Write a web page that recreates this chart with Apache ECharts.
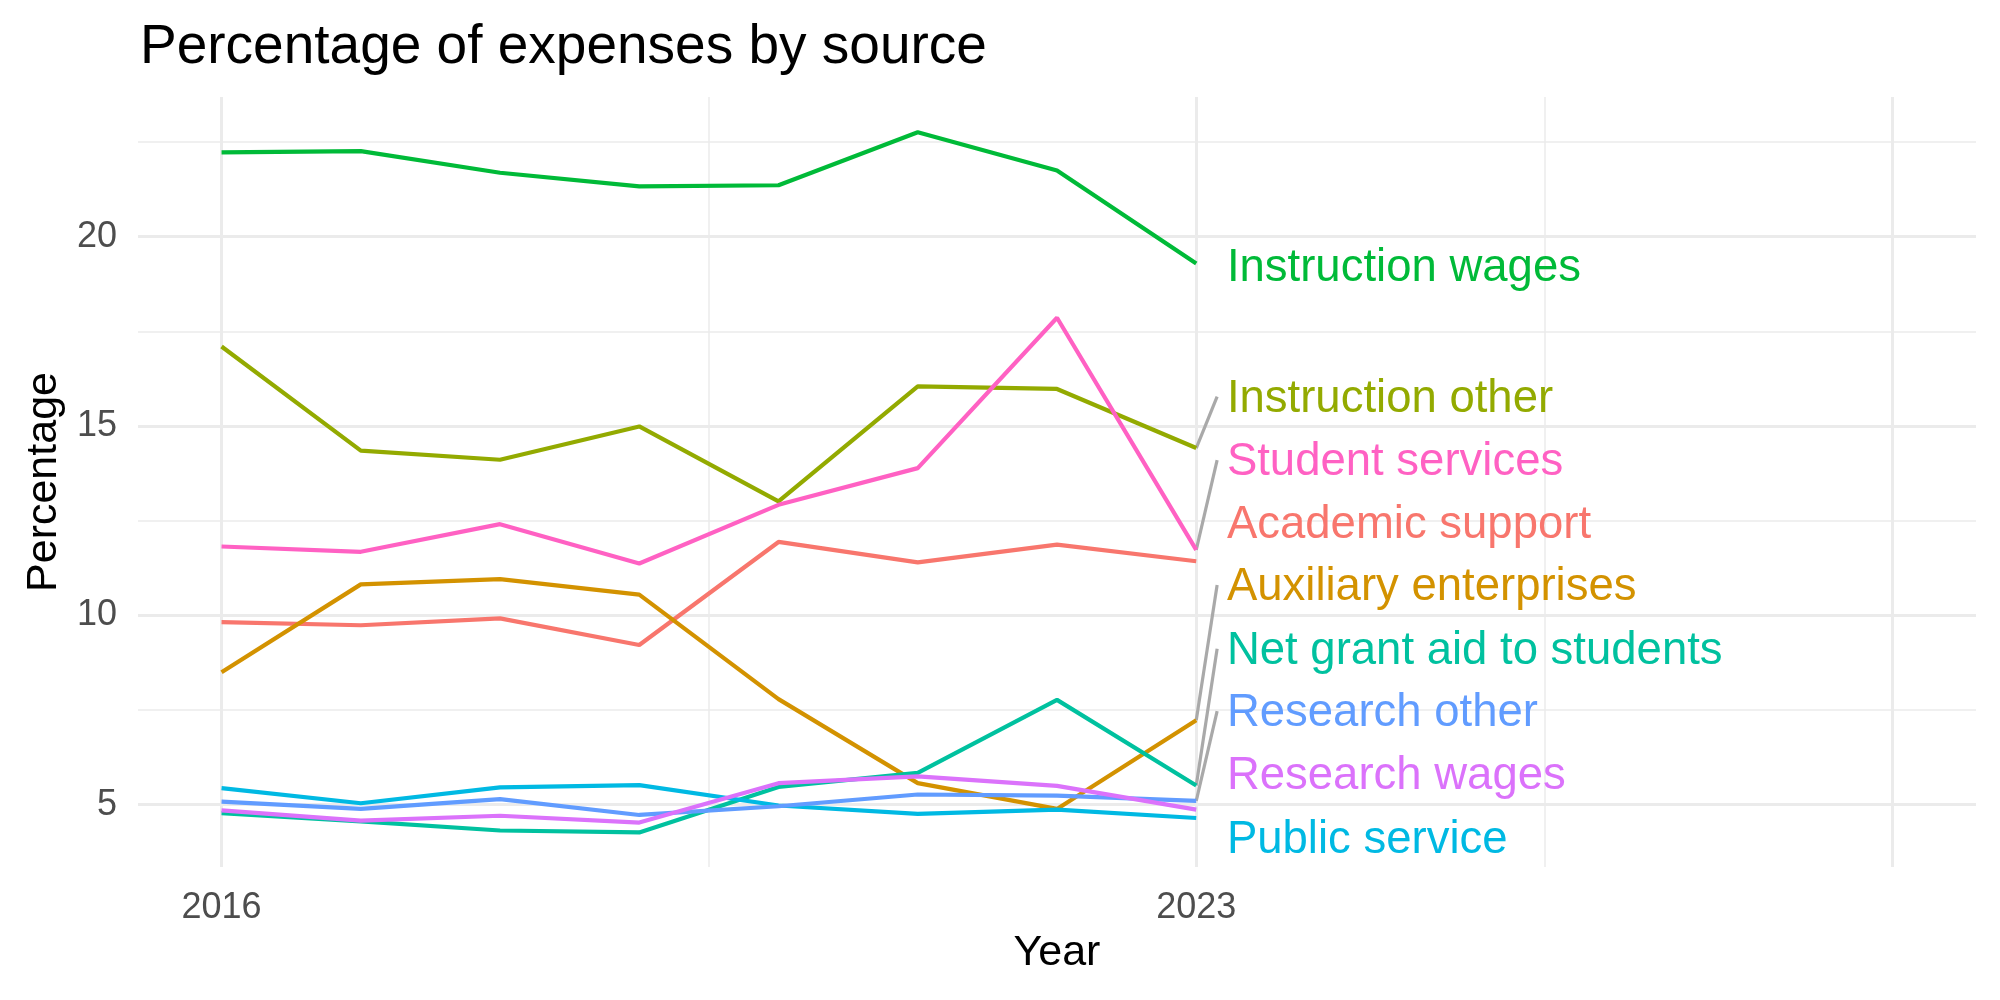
<!DOCTYPE html>
<html>
<head>
<meta charset="utf-8">
<script src="https://cdn.jsdelivr.net/npm/echarts@6/dist/echarts.min.js"></script>
<style>
html, body { margin: 0; padding: 0; background: #fff; }
#chart { width: 2000px; height: 1000px; }
</style>
</head>
<body>
<div id="chart"></div>
<script>
// data
const years = [2016, 2017, 2018, 2019, 2020, 2021, 2022, 2023];
const academicSupport = [9.82, 9.74, 9.92, 9.22, 11.94, 11.40, 11.87, 11.43];
const auxiliaryEnterprises = [8.50, 10.82, 10.96, 10.55, 7.79, 5.57, 4.89, 7.23];
const instructionOther = [17.10, 14.35, 14.11, 14.99, 13.01, 16.05, 15.98, 14.42];
const instructionWages = [22.23, 22.26, 21.69, 21.33, 21.36, 22.76, 21.75, 19.29];
const netGrantAid = [4.78, 4.56, 4.32, 4.27, 5.47, 5.84, 7.77, 5.51];
const publicService = [5.44, 5.04, 5.46, 5.52, 4.98, 4.76, 4.87, 4.65];
const researchOther = [5.08, 4.89, 5.15, 4.73, 4.96, 5.27, 5.24, 5.10];
const researchWages = [4.85, 4.58, 4.71, 4.53, 5.57, 5.75, 5.50, 4.87];
const studentServices = [11.82, 11.68, 12.41, 11.37, 12.92, 13.89, 17.86, 11.73];

const names = ['Academic support', 'Auxiliary enterprises', 'Instruction other', 'Instruction wages',
  'Net grant aid to students', 'Public service', 'Research other', 'Research wages', 'Student services'];
const values = [academicSupport, auxiliaryEnterprises, instructionOther, instructionWages,
  netGrantAid, publicService, researchOther, researchWages, studentServices];

const xTickLabels = [2016, 2023];
const yTickLabels = [5, 10, 15, 20];
const xMajor = [2016, 2023, 2028];
const xMinor = [2019.5, 2025.5];
const yMajor = [5, 10, 15, 20];
const yMinor = [7.5, 12.5, 17.5, 22.5];

// ggplot hue palette
const colors = ['#F8766D', '#D39200', '#93AA00', '#00BA38', '#00C19F', '#00B9E3', '#619CFF', '#DB72FB', '#FF61C3'];

// repelled label placement (data units) and which labels get a leader segment
const labelX = 2023.22;
const segEndX = 2023.15;
const labelY = [12.38, 10.73, 15.71, 19.15, 9.05, 4.06, 7.40, 5.74, 14.03];
const hasSegment = [false, true, true, false, true, false, true, false, true];

const font = 'Liberation Sans, Arial, Helvetica, sans-serif';
const chart = echarts.init(document.getElementById('chart'));

let gridLines = [];
xMajor.forEach(v => gridLines.push({xAxis: v, lineStyle: {width: 3}}));
xMinor.forEach(v => gridLines.push({xAxis: v, lineStyle: {width: 1.5}}));
yMajor.forEach(v => gridLines.push({yAxis: v, lineStyle: {width: 3}}));
yMinor.forEach(v => gridLines.push({yAxis: v, lineStyle: {width: 1.5}}));

let series = [{
  type: 'line',
  data: [],
  z: 1,
  silent: true,
  markLine: {
    z: 1,
    silent: true,
    symbol: ['none', 'none'],
    label: {show: false},
    lineStyle: {color: '#EBEBEB', type: 'solid'},
    animation: false,
    data: gridLines
  }
}];

names.forEach((name, i) => {
  series.push({
    name: name,
    type: 'line',
    z: 3,
    showSymbol: false,
    silent: true,
    data: years.map((y, j) => [y, values[i][j]]),
    lineStyle: {color: colors[i], width: 4.2, opacity: 1},
    itemStyle: {color: colors[i]}
  })
})

let segs = [];
names.forEach((name, i) => {
  if (hasSegment[i]) {
    segs.push({coords: [[years[years.length - 1], values[i][values[i].length - 1]], [segEndX, labelY[i] + 0.07]]})
  }
})
series.push({
  type: 'lines',
  coordinateSystem: 'cartesian2d',
  z: 2,
  silent: true,
  lineStyle: {color: '#A9A9A9', width: 3.2, opacity: 1},
  data: segs
});

series.push({
  type: 'scatter',
  z: 4,
  silent: true,
  symbolSize: 0,
  data: names.map((name, i) => ({
    value: [labelX, labelY[i]],
    label: {
      show: true,
      position: 'right',
      distance: 0,
      formatter: name,
      color: colors[i],
      opacity: 1,
      textBorderWidth: 0,
      textBorderColor: 'transparent',
      fontSize: 45.5,
      fontFamily: font
    }
  }))
});

chart.setOption({
  animation: false,
  title: {
    text: 'Percentage of expenses by source',
    left: 140,
    top: 20,
    padding: 0,
    textStyle: {fontSize: 55, fontWeight: 'normal', color: '#000', fontFamily: font}
  },
  grid: {left: 138, right: 24, top: 97, bottom: 133},
  xAxis: {
    type: 'value',
    min: 2015.4,
    max: 2028.6,
    name: 'Year',
    nameLocation: 'middle',
    nameGap: 65,
    nameTextStyle: {fontSize: 43, color: '#000', fontFamily: font},
    axisLine: {show: false},
    axisTick: {show: false},
    splitLine: {show: false},
    axisLabel: {
      customValues: xTickLabels,
      formatter: v => String(v),
      fontSize: 36, color: '#4D4D4D', fontFamily: font, margin: 23
    }
  },
  yAxis: {
    type: 'value',
    min: 3.356,
    max: 23.69,
    name: 'Percentage',
    nameLocation: 'middle',
    nameGap: 72,
    nameRotate: 90,
    nameTextStyle: {fontSize: 43, color: '#000', fontFamily: font},
    axisLine: {show: false},
    axisTick: {show: false},
    splitLine: {show: false},
    axisLabel: {customValues: yTickLabels, fontSize: 36, color: '#4D4D4D', fontFamily: font, margin: 21}
  },
  series: series
});
</script>
</body>
</html>
